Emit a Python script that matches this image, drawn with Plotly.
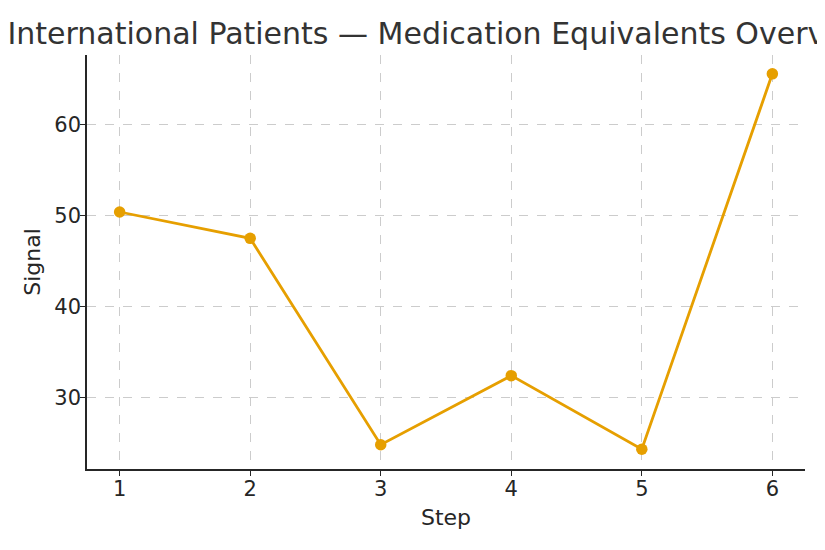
import plotly.graph_objects as go

steps = [1, 2, 3, 4, 5, 6]
signal = [50.4, 47.5, 24.8, 32.4, 24.3, 65.6]
y_ticks = [30, 40, 50, 60]

# page body has an 8px margin, so the figure is offset by 8px in the window
W, H = 817, 542
fig = go.Figure()
fig.add_trace(go.Scatter(
    x=steps, y=signal, mode="lines+markers",
    line=dict(color="#E69F00", width=2.8),
    marker=dict(color="#E69F00", size=11.5),
))

axis_common = dict(
    showline=True, linecolor="#262626", linewidth=1.5,
    ticks="outside", ticklen=5, tickwidth=1.2, tickcolor="#262626",
    showgrid=True, gridcolor="#cccccc", griddash="dash", gridwidth=1,
    zeroline=False, mirror=False,
    ticklabelstandoff=-5,
    tickfont=dict(family="DejaVu Sans", size=21, color="#262626"),
)

fig.update_layout(
    width=W, height=H,
    margin=dict(l=79, r=20, t=47, b=81),
    paper_bgcolor="white", plot_bgcolor="white",
    showlegend=False,
    title=dict(
        text="International Patients — Medication Equivalents Overview",
        x=434 / W, xref="container", xanchor="center",
        y=1 - 25 / H, yref="container", yanchor="middle",
        font=dict(family="DejaVu Sans", size=30, color="#333333"),
    ),
    xaxis=dict(
        range=[0.75, 6.25], tickvals=steps,
        title=dict(text="Step", font=dict(family="DejaVu Sans", size=22, color="#262626"), standoff=10),
        **axis_common,
    ),
    yaxis=dict(
        range=[22.13, 67.67], tickvals=y_ticks,
        title=dict(text="Signal", font=dict(family="DejaVu Sans", size=22, color="#262626"), standoff=8),
        **axis_common,
    ),
)

fig.write_html("out.html")
